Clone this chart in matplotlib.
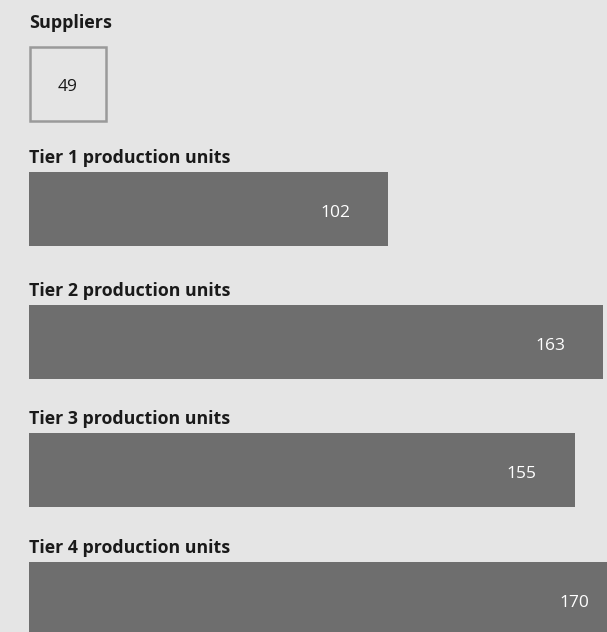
import matplotlib
matplotlib.use("Agg")
import matplotlib.pyplot as plt
from matplotlib.patches import Rectangle

# Data
supplier_label = "Suppliers"
supplier_count = 49
tiers = ["Tier 1 production units", "Tier 2 production units",
         "Tier 3 production units", "Tier 4 production units"]
tier_values = [102, 163, 155, 170]

BG = "#e5e5e5"
BAR = "#6e6e6e"
TXT = "#1a1a1a"
FONT = ["Open Sans", "DejaVu Sans"]

W, H, DPI = 607, 632, 100
fig = plt.figure(figsize=(W / DPI, H / DPI), dpi=DPI, facecolor=BG)
ax = fig.add_axes([0, 0, 1, 1], facecolor=BG)

# x in value units (left margin 29 px, 3.52 px per unit); y in pixels from top
px_per_unit = 3.52
left_px = 29
ax.set_xlim(-left_px / px_per_unit, (W - left_px) / px_per_unit)
ax.set_ylim(H, 0)
ax.axis("off")

# Suppliers box
ax.text(0, 21, supplier_label, fontsize=13, fontweight="bold", color=TXT,
        family=FONT, ha="left", va="center_baseline")
box_w_units = 76 / px_per_unit
ax.add_patch(Rectangle((0.3, 47), box_w_units, 74, facecolor="none",
                       edgecolor="#9a9a9a", linewidth=1.8))
ax.text(0.3 + box_w_units / 2, 85, str(supplier_count), fontsize=12.5,
        color=TXT, family=FONT, fontweight="medium", ha="center",
        va="center_baseline")

# Tier bars
title_y = [156, 289, 417, 546]
bar_y = [209, 342, 470, 599]
bar_h = 74
for name, v, ty, by in zip(tiers, tier_values, title_y, bar_y):
    ax.text(0, ty, name, fontsize=12.8, fontweight="bold", color=TXT,
            family=FONT, ha="left", va="center_baseline")
    ax.barh(by, v, height=bar_h, left=0, color=BAR)
    ax.annotate(str(v), xy=(v, by + 2), xytext=(-38, 0),
                textcoords="offset points", ha="center", va="center_baseline",
                color="white", fontsize=12.5, fontweight="medium",
                family=FONT, annotation_clip=False)

fig.savefig("out.png", dpi=DPI, facecolor=BG)
